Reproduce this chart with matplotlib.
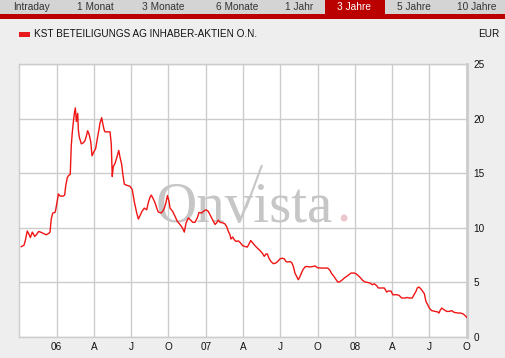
import matplotlib
matplotlib.use("Agg")
import matplotlib.pyplot as plt
from matplotlib.patches import Rectangle
import numpy as np

# ---- data: months since Oct 2005 and price in EUR ----
months = [0.16, 0.38, 0.48, 0.64, 0.78, 0.89, 1.05, 1.24, 1.37, 1.56, 1.77, 1.99, 2.17, 2.39, 2.47,
          2.57, 2.69, 2.87, 2.93, 3.09, 3.14, 3.30, 3.52, 3.65, 3.73, 3.86, 3.97, 4.10, 4.18, 4.26,
          4.34, 4.43, 4.51, 4.59, 4.70, 4.75, 4.83, 4.99, 5.15, 5.29, 5.39, 5.50, 5.61, 5.75, 5.85,
          5.95, 6.15, 6.28, 6.41, 6.49, 6.63, 6.71, 6.82, 6.90, 7.16, 7.30, 7.40, 7.48, 7.56, 7.70,
          7.86, 8.00, 8.10, 8.24, 8.32, 8.45, 8.64, 8.91, 9.09, 9.25, 9.45, 9.58, 9.71, 9.87, 10.06,
          10.25, 10.38, 10.52, 10.62, 10.78, 10.92, 11.06, 11.18, 11.40, 11.54, 11.67, 11.80, 11.92,
          12.05, 12.13, 12.34, 12.53, 12.71, 12.93, 13.12, 13.28, 13.41, 13.60, 13.79, 13.95, 14.14,
          14.32, 14.46, 14.68, 14.81, 15.02, 15.21, 15.34, 15.48, 15.61, 15.75, 15.88, 16.01, 16.15,
          16.37, 16.55, 16.69, 16.82, 16.95, 17.03, 17.17, 17.30, 17.44, 17.62, 17.76, 17.98, 18.16,
          18.35, 18.48, 18.62, 18.75, 18.97, 19.15, 19.37, 19.55, 19.71, 19.85, 19.96, 20.09, 20.25,
          20.44, 20.63, 20.79, 20.98, 21.16, 21.32, 21.46, 21.60, 21.78, 21.92, 22.05, 22.18, 22.32,
          22.45, 22.59, 22.72, 22.85, 22.99, 23.12, 23.39, 23.66, 23.79, 23.99, 24.33, 24.82, 25.00,
          25.14, 25.32, 25.46, 25.62, 25.75, 25.94, 26.15, 26.34, 26.53, 26.69, 26.96, 27.09, 27.28,
          27.47, 27.63, 27.82, 28.03, 28.22, 28.40, 28.56, 28.76, 28.89, 29.37, 29.56, 29.69, 29.91,
          30.05, 30.37, 30.55, 30.77, 31.03, 31.22, 31.38, 31.62, 31.76, 31.92, 32.02, 32.16, 32.32,
          32.46, 32.59, 32.72, 32.86, 32.99, 33.18, 33.45, 33.67, 33.77, 33.85, 33.99, 34.17, 34.39,
          34.60, 34.79, 35.00, 35.32, 35.52, 35.73, 35.94, 36.00]
prices = [8.26, 8.4, 8.8, 9.7, 9.4, 9.1, 9.6, 9.2, 9.35, 9.66, 9.57, 9.45, 9.35, 9.5, 9.6,
          10.8, 11.35, 11.4, 11.65, 12.7, 13.1, 12.9, 12.9, 13.0, 13.8, 14.6, 14.8, 14.9, 17.5, 18.7,
          19.6, 20.5, 21.0, 19.75, 20.5, 19.0, 18.3, 17.7, 17.8, 18.0, 18.4, 18.9, 18.6, 17.9, 16.6,
          16.85, 17.3, 18.2, 19.0, 19.6, 20.1, 19.6, 19.0, 18.8, 18.8, 18.8, 17.7, 14.7, 15.6, 15.9,
          16.5, 17.1, 16.5, 15.8, 15.0, 14.0, 13.9, 13.8, 13.5, 12.4, 11.35, 10.8, 11.1, 11.5, 11.8,
          11.65, 12.3, 12.8, 13.0, 12.65, 12.3, 11.8, 11.45, 11.35, 11.5, 11.8, 12.3, 12.95,
          12.4, 11.8, 11.5, 11.05, 10.6, 10.3, 10.0, 9.6, 10.4, 10.9, 10.7, 10.5, 10.5,
          10.9, 11.4, 11.35, 11.5, 11.65, 11.5, 11.2, 10.9, 10.6, 10.3, 10.45, 10.7, 10.5,
          10.45, 10.35, 10.1, 9.66, 9.36, 8.96, 9.15, 8.9, 8.74, 8.8, 8.65, 8.35, 8.28,
          8.23, 8.5, 8.83, 8.65, 8.35, 8.14, 7.9, 7.68, 7.37, 7.59, 7.6, 7.2, 6.9,
          6.7, 6.76, 6.9, 7.15, 7.2, 7.15, 6.9, 6.85, 6.9, 6.8, 6.45, 5.84, 5.53,
          5.23, 5.53, 5.9, 6.2, 6.4, 6.45, 6.4, 6.45, 6.5, 6.33, 6.3, 6.3, 6.08,
          5.78, 5.53, 5.3, 5.02, 5.02, 5.17, 5.38, 5.53, 5.7, 5.84, 5.84, 5.78, 5.6,
          5.38, 5.17, 5.02, 4.98, 4.93, 4.77, 4.86, 4.68, 4.47, 4.47, 4.1, 4.19, 4.19,
          3.85, 3.85, 3.8, 3.55, 3.55, 3.6, 3.55, 3.55, 3.85, 4.16, 4.47, 4.56, 4.38,
          4.16, 3.95, 3.24, 2.94, 2.63, 2.39, 2.32, 2.27, 2.17, 2.39, 2.63, 2.48, 2.32,
          2.32, 2.39, 2.23, 2.17, 2.17, 2.08, 1.86, 1.77]

x_tick_pos = [3, 6, 9, 12, 15, 18, 21, 24, 27, 30, 33, 36]
x_tick_labels = ["06", "A", "J", "O", "07", "A", "J", "O", "08", "A", "J", "O"]
y_ticks = [0, 5, 10, 15, 20, 25]
tabs = ["Intraday", "1 Monat", "3 Monate", "6 Monate", "1 Jahr", "3 Jahre", "5 Jahre", "10 Jahre"]
active_tab = "3 Jahre"
series_name = "KST BETEILIGUNGS AG INHABER-AKTIEN O.N."
currency = "EUR"

W, H = 505, 358
BG = "#EEEEEE"
RED = "#F01414"
GRID = "#CCCCCC"
FONT = "Liberation Sans"

fig = plt.figure(figsize=(W / 100, H / 100), dpi=100, facecolor=BG)

# overlay in pixel coordinates for tabs / header
ov = fig.add_axes([0, 0, 1, 1])
ov.set_xlim(0, W)
ov.set_ylim(H, 0)
ov.axis("off")
ov.add_patch(Rectangle((0, 0), W, 14, facecolor="#D4D4D4", edgecolor="none"))
ov.add_patch(Rectangle((0, 14), W, 5, facecolor="#BB0000", edgecolor="none"))
tab_centers = [31.5, 95, 163, 237, 299, 354, 414, 477]
tab_bounds = [(0, 62), (62, 128), (128, 198), (198, 270), (270, 325), (325, 385), (385, 445), (445, 505)]
for name, cx, (a, b) in zip(tabs, tab_centers, tab_bounds):
    if name == active_tab:
        ov.add_patch(Rectangle((a, 0), b - a, 15, facecolor="#BB0000", edgecolor="none"))
        col = "white"
    else:
        col = "#333333"
    ov.text(cx, 7.3, name, ha="center", va="center", fontsize=7.3, color=col, family=FONT)

ov.add_patch(Rectangle((19, 31.7), 11, 5, facecolor="#E8191C", edgecolor="none"))
ov.text(33.5, 34.2, series_name, ha="left", va="center", fontsize=7.2, color="#111111", family=FONT)
ov.text(499, 34.2, currency, ha="right", va="center", fontsize=7.2, color="#111111", family=FONT)

# main chart axes
ax = fig.add_axes([19.3 / W, (H - 336.7) / H, 447.4 / W, 272.4 / H])
ax.set_facecolor("white")
ax.set_xlim(0, 36)
ax.set_ylim(0, 25)
ax.set_xticks(x_tick_pos)
ax.set_xticklabels(x_tick_labels)
ax.set_yticks(y_ticks)
ax.yaxis.tick_right()
ax.tick_params(axis="both", length=0, labelsize=7.2, colors="#111111")
ax.tick_params(axis="x", pad=4)
ax.tick_params(axis="y", pad=5)
for lab in ax.get_xticklabels() + ax.get_yticklabels():
    lab.set_family(FONT)
ax.grid(True, color=GRID, linewidth=1.0)
ax.set_axisbelow(True)
for side, sp in ax.spines.items():
    sp.set_color(GRID)
    sp.set_linewidth(1.0)
ax.spines["right"].set_linewidth(2.0)

# watermark (pixel positions converted to axes fractions)
def axfrac(px, py):
    return ((px - 19.3) / 447.4, (336.7 - py) / 272.4)

WM = "#C6C6C6"
tx, ty = axfrac(156, 222)
ax.text(tx, ty, "Onvista", transform=ax.transAxes, ha="left", va="baseline",
        fontsize=41, color=WM, family="Liberation Serif", zorder=1)
dx, dy = axfrac(336, 222)
ax.text(dx, dy, ".", transform=ax.transAxes, ha="left", va="baseline",
        fontsize=41, color="#EBC6CC", family="Liberation Serif", zorder=1)
s0 = axfrac(246, 208)
s1 = axfrac(262, 165)
ax.plot([s0[0], s1[0]], [s0[1], s1[1]], transform=ax.transAxes, color=WM,
        linewidth=1.5, zorder=1, solid_capstyle="butt")

ax.plot(months, prices, color=RED, linewidth=1.0, zorder=3)

fig.savefig("out.png", dpi=100, facecolor=BG)
